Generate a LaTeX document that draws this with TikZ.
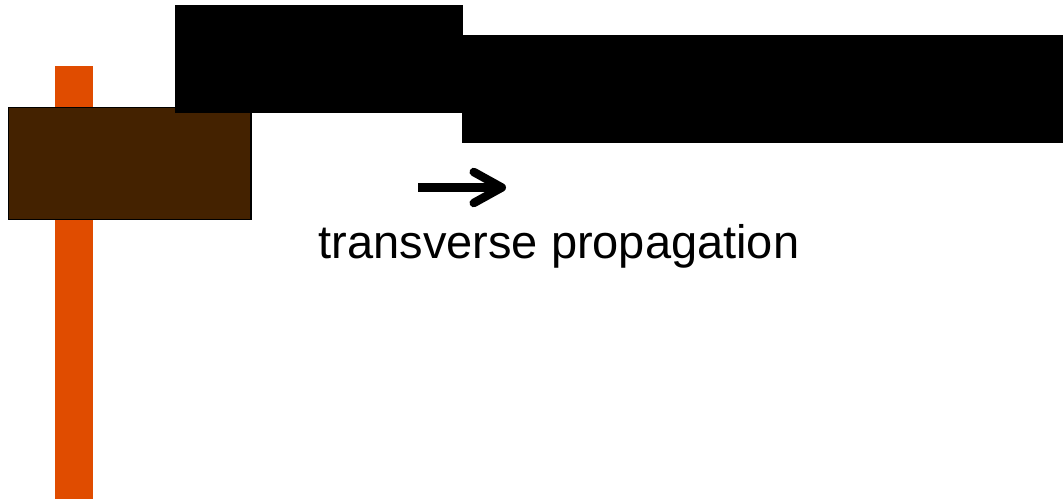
\documentclass[tikz,border=0pt]{standalone}
\usepackage{fontspec}
\setmainfont{Liberation Sans}
\usetikzlibrary{arrows.meta}
\definecolor{barorange}{HTML}{E04C00}
\definecolor{blockbrown}{HTML}{442200}
\tikzset{
  blackbox/.style={fill=black, draw=none},
  lbl/.style={font=\fontsize{47}{54}\selectfont, anchor=base, inner sep=0pt},
}
\begin{document}
\begin{tikzpicture}[x=1pt, y=-1pt]
\useasboundingbox (0,0) rectangle (1063,499);
% orange bar
\fill[barorange] (55,66) rectangle (93,499);
% brown block
\filldraw[fill=blockbrown, draw=black, line width=1.5pt] (8.5,107.5) rectangle (251,219.5);
% black blocks
\fill[blackbox] (175,5) rectangle (463,113);
\fill[blackbox] (462,35) rectangle (1063,143);
% arrow
\coordinate (as) at (418,187.5);
\coordinate (ae) at (506,187.5);
\draw[line width=8.5pt, -{Straight Barb[length=28pt, width=31pt, round]}] (as) -- (ae);
% label
\node[lbl] (t) at (559,258) {transverse propagation};
\end{tikzpicture}
\end{document}
